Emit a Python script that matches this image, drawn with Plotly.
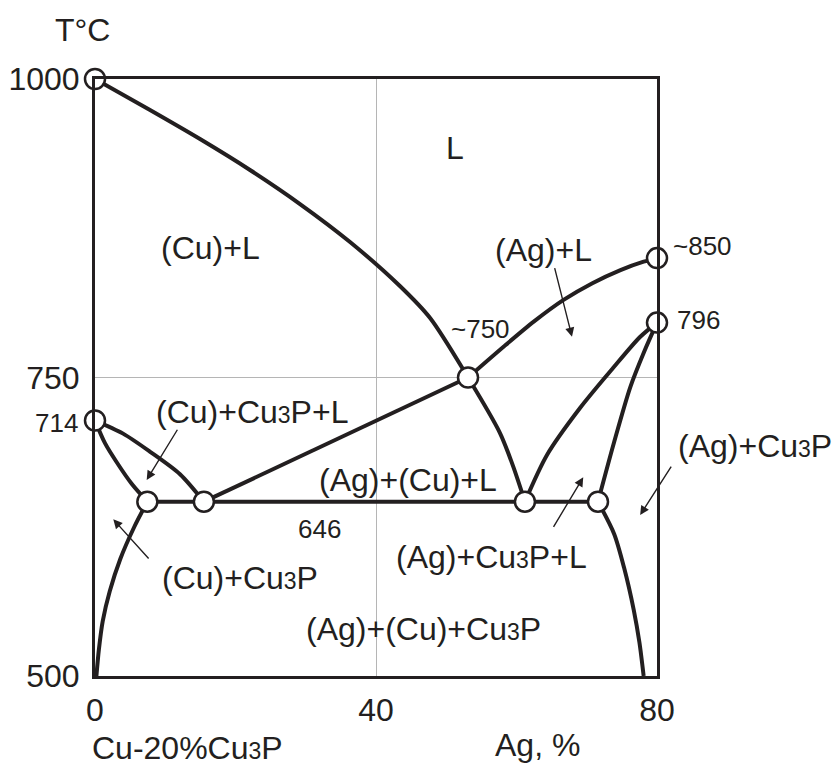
import plotly.graph_objects as go

# --- Phase boundaries of the Cu-20%Cu3P – Ag section (Ag, %  vs  T, °C) ---
liq_cu_ag = [0, 7.83, 14.95, 22.06, 29.18, 36.3, 43.4, 47.7, 53.1, 57.65, 59.5, 61.2]
liq_cu_t = [1000, 974, 949.7, 923.8, 895.3, 863.5, 826.6, 799.8, 750, 703.5, 676, 646]

liq_ag_ag = [53.1, 58.2, 62.5, 66.7, 70.8, 74.8, 78.1, 80.0]
liq_ag_t = [750, 776, 797, 815, 829, 840, 847, 850]

ag_l_left_ag = [61.2, 64.34, 69.04, 73.74, 77.58, 80.0]
ag_l_left_t = [646, 685.1, 724.4, 757.9, 783.9, 796]

ag_l_right_ag = [71.6, 73.9, 76.2, 78.2, 80.0]
ag_l_right_t = [646, 696, 742, 772, 796]

solvus_ag_ag = [71.6, 73.9, 75.3, 76.7, 77.5, 78.1]
solvus_ag_t = [646, 619, 591, 555, 528, 500]

cu_l_inner_ag = [0, 1.42, 3.09, 5.22, 7.45]
cu_l_inner_t = [714, 695, 679, 661, 646]

cu_l_outer_ag = [0, 4.0, 7.8, 12.1, 15.5]
cu_l_outer_t = [714, 703, 688, 669, 646]

solvus_cu_ag = [7.45, 5.6, 3.6, 2.1, 1.1, 0.55, 0.2]
solvus_cu_t = [646, 625, 598, 571, 546, 522, 500]

valley_ag = [15.5, 53.1]
valley_t = [646, 750]

eutectic_ag = [7.45, 71.6]
eutectic_t = [646, 646]

# invariant points
pts_ag = [0, 80, 80, 53.1, 0, 7.45, 15.5, 61.2, 71.6]
pts_t = [1000, 850, 796, 750, 714, 646, 646, 646, 646]

x_ticks = [0, 40, 80]
y_ticks = [500, 750, 1000]

FONT = "Arial, Liberation Sans, sans-serif"
INK = "#231f20"
S3 = '<span style="font-size:23px">3</span>'

fig = go.Figure()

for xs, ys in [
    (liq_cu_ag, liq_cu_t), (liq_ag_ag, liq_ag_t), (ag_l_left_ag, ag_l_left_t),
    (ag_l_right_ag, ag_l_right_t), (solvus_ag_ag, solvus_ag_t),
    (cu_l_inner_ag, cu_l_inner_t), (cu_l_outer_ag, cu_l_outer_t),
    (solvus_cu_ag, solvus_cu_t), (valley_ag, valley_t), (eutectic_ag, eutectic_t),
]:
    fig.add_trace(go.Scatter(x=xs, y=ys, mode="lines",
                             line=dict(color=INK, width=4, shape="spline", smoothing=0.8),
                             hoverinfo="skip", showlegend=False, cliponaxis=False))

fig.add_trace(go.Scatter(x=pts_ag, y=pts_t, mode="markers",
                         marker=dict(size=20, color="white", line=dict(color=INK, width=2.5)),
                         showlegend=False, cliponaxis=False))


def label(x, y, text, size=32, xanchor="center", ref="data"):
    kw = dict(xref="paper", yref="paper") if ref == "paper" else {}
    fig.add_annotation(x=x, y=y, text=text, showarrow=False, xanchor=xanchor, yanchor="middle",
                       font=dict(family=FONT, size=size, color=INK), **kw)


# phase-field labels inside the frame
label(51.2, 942, "L")
label(16.4, 858.5, "(Cu)+L")
label(63.8, 856.8, "(Ag)+L")
label(54.9, 790.6, "~750", size=26)
label(22.3, 721.1, "(Cu)+Cu" + S3 + "P+L")
label(44.6, 664.2, "(Ag)+(Cu)+L")
label(32.0, 623.1, "646", size=26)
label(20.6, 582.1, "(Cu)+Cu" + S3 + "P")
label(56.5, 599.7, "(Ag)+Cu" + S3 + "P+L")
label(46.7, 539.4, "(Ag)+(Cu)+Cu" + S3 + "P")

# labels around the frame
label(1.025, 0.720, "~850", size=26, xanchor="left", ref="paper")
label(1.032, 0.596, "796", size=26, xanchor="left", ref="paper")
label(-0.027, 0.4238, "714", size=26, xanchor="right", ref="paper")
label(1.174, 0.385, "(Ag)+Cu" + S3 + "P", ref="paper")
label(-0.0214, 1.082, "T°C", ref="paper")
label(-0.0089, -0.1205, "Cu-20%Cu" + S3 + "P", xanchor="left", ref="paper")
label(0.7865, -0.1156, "Ag, %", ref="paper")

# pointer arrows from labels into their phase fields
for hx, hy, ax, ay in [
    (7.36, 664.2, 31.6, -51.7),
    (2.6, 631.2, 36.7, 40.7),
    (67.9, 784.2, -17.7, -70),
    (69.5, 666.4, -30.6, 51),
    (77.6, 634.8, 32, -50),
]:
    fig.add_annotation(x=hx, y=hy, ax=ax, ay=ay, text="", showarrow=True, arrowhead=2,
                       arrowsize=1.3, arrowwidth=1.4, arrowcolor=INK, standoff=0, startstandoff=0)

fig.update_xaxes(range=[0, 80], tickvals=x_ticks, ticktext=[str(v) for v in x_ticks],
                 showgrid=True, gridcolor="#b5b5b5", gridwidth=1, zeroline=False,
                 showline=True, linecolor=INK, linewidth=3, mirror=True, ticks="",
                 automargin=False, ticklabelstandoff=4,
                 tickfont=dict(family=FONT, size=32, color=INK))
fig.update_yaxes(range=[500, 1000], tickvals=y_ticks, ticktext=[str(v) for v in y_ticks],
                 showgrid=True, gridcolor="#b5b5b5", gridwidth=1, zeroline=False,
                 showline=True, linecolor=INK, linewidth=3, mirror=True, ticks="",
                 automargin=False, ticklabelstandoff=6,
                 tickfont=dict(family=FONT, size=32, color=INK))

fig.update_layout(width=840, height=767, margin=dict(l=95, r=183, t=79, b=91),
                  paper_bgcolor="white", plot_bgcolor="white", showlegend=False)

fig.write_html("out.html")
